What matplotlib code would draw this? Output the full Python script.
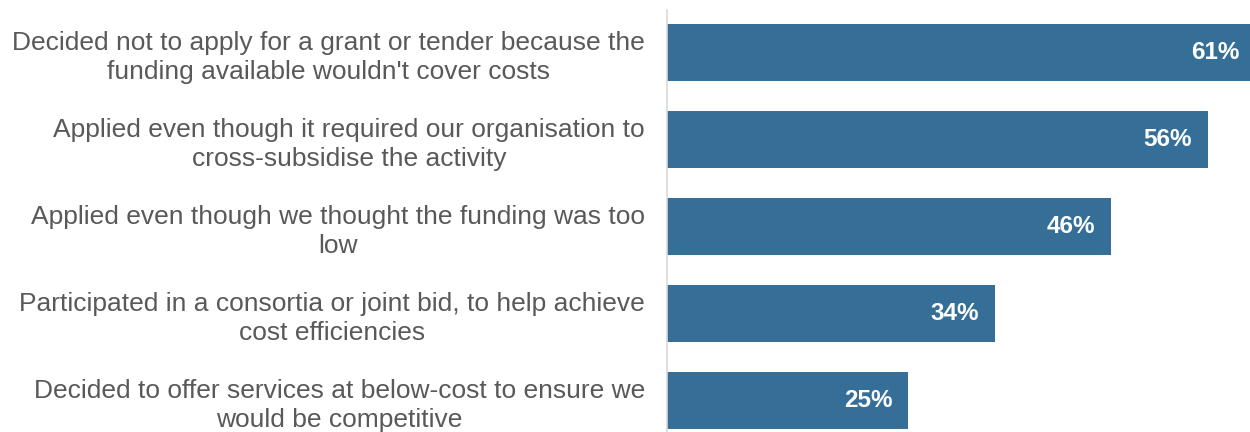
import numpy as np
import matplotlib
matplotlib.use('Agg')
import matplotlib.pyplot as plt

categories = [
  "Decided not to apply for a grant or tender because the\nfunding available wouldn't cover costs",
  "Applied even though it required our organisation to\ncross-subsidise the activity",
  "Applied even though we thought the funding was too\nlow",
  "Participated in a consortia or joint bid, to help achieve\ncost efficiencies",
  "Decided to offer services at below-cost to ensure we\nwould be competitive",
]
values = [61, 56, 46, 34, 25]
value_labels = ['61%', '56%', '46%', '34%', '25%']

bar_color = '#356f98'
text_color = '#595959'
axis_color = '#d9d9d9'

plt.rcParams['font.family'] = ['Liberation Sans', 'DejaVu Sans']

fig = plt.figure(figsize=(12.5, 4.32), dpi=100)
ax = fig.add_axes([0.5336, 0.0, 0.4664, 0.977])

y = np.arange(len(values))
ax.barh(y, values, height=0.655, color=bar_color)

for yi, v, lab in zip(y, values, value_labels):
  ax.annotate(lab, (v, yi), xytext=(-11.5, 0), textcoords='offset points',
              ha='right', va='center', color='white', fontsize=17.5, fontweight='bold',
              annotation_clip=False)

ax.set_xlim(0, 60.4)
ax.set_ylim(4.362, -0.489)

ax.set_yticks(y)
ax.set_yticklabels(categories, fontsize=19, color=text_color, linespacing=1.25)
for t in ax.get_yticklabels():
  t.set_multialignment('center')
ax.tick_params(axis='y', length=0, pad=16)
ax.set_xticks([])

for side in ['top', 'right', 'bottom']:
  ax.spines[side].set_visible(False)
ax.spines['left'].set_color(axis_color)
ax.spines['left'].set_linewidth(1.2)

fig.savefig('out.png', dpi=100)
